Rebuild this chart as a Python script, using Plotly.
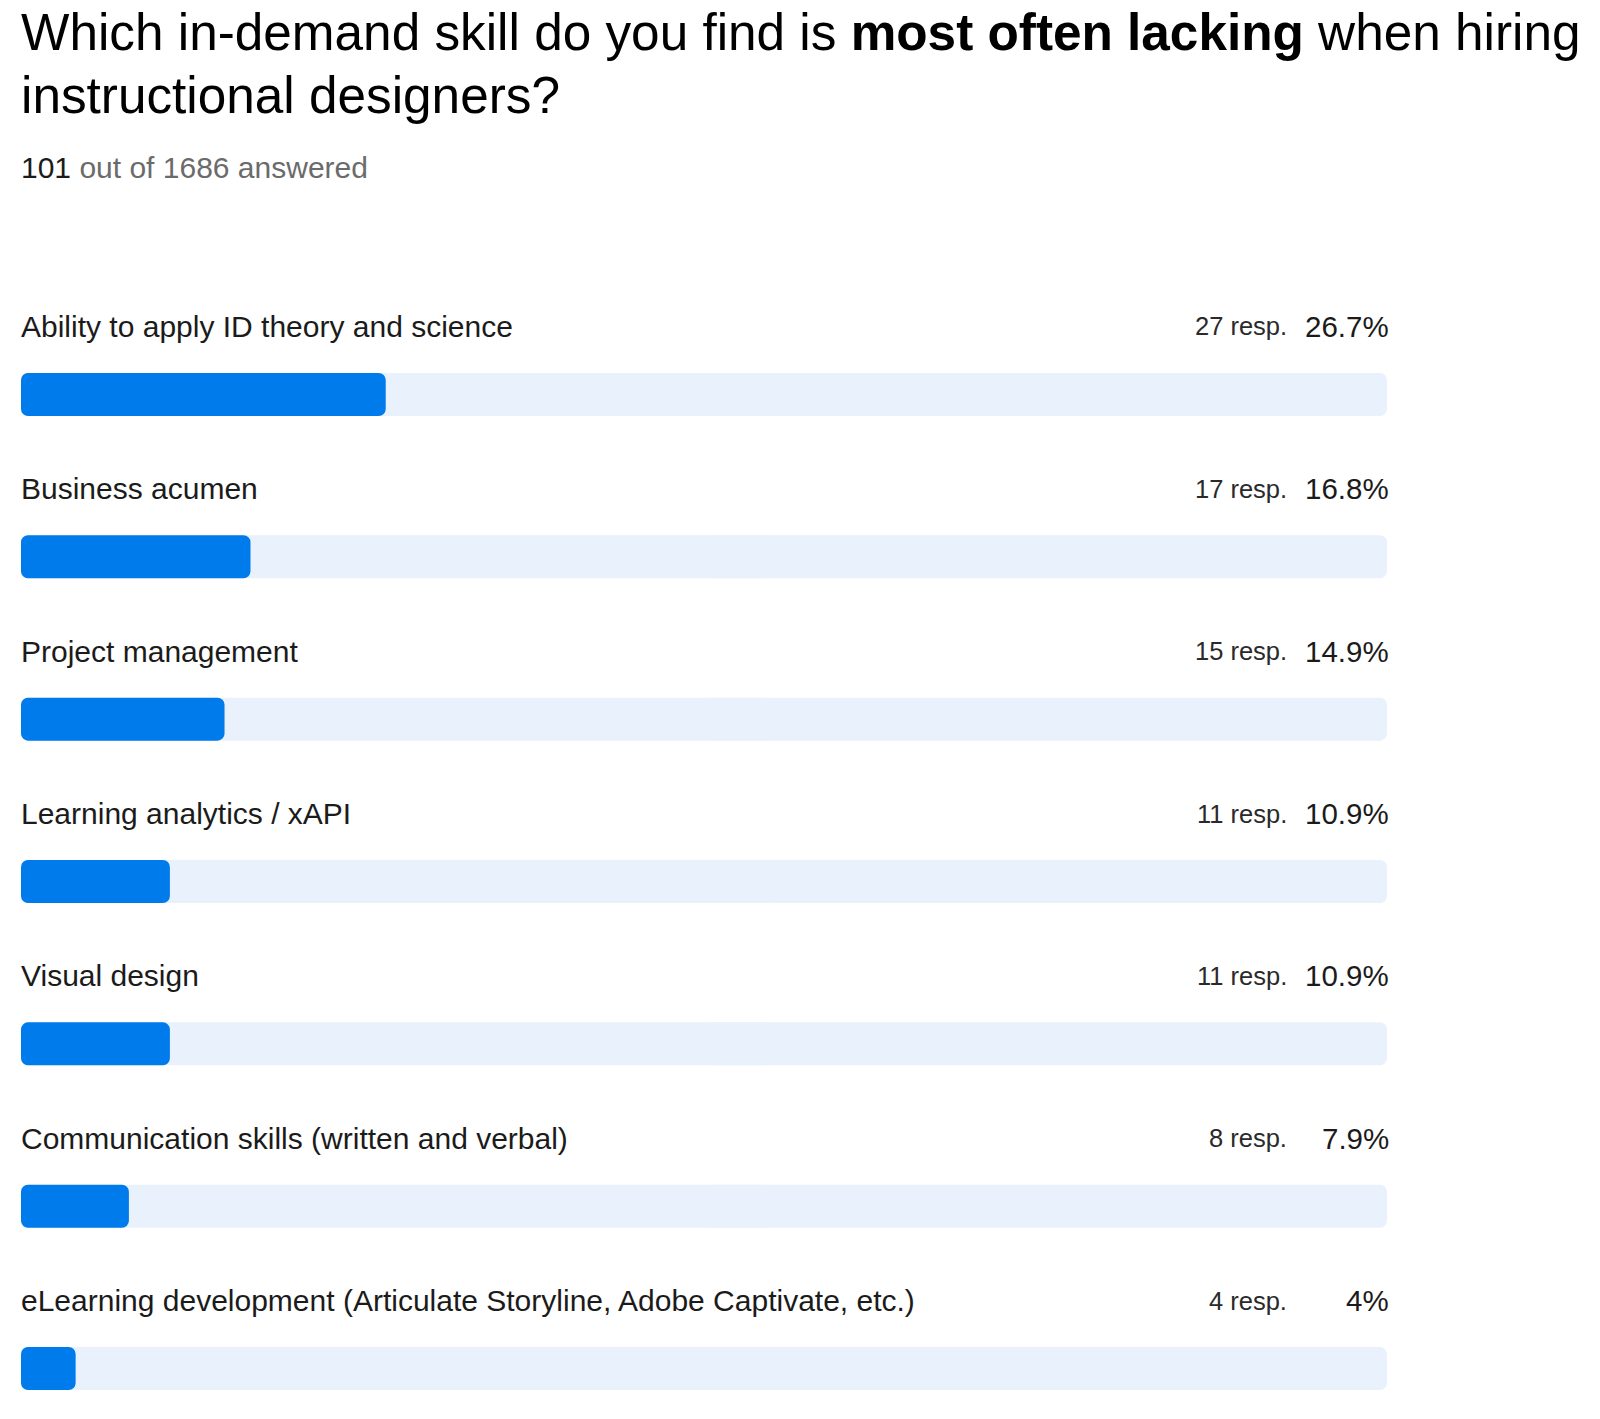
import plotly.graph_objects as go

# survey data
skills = [
    "Ability to apply ID theory and science",
    "Business acumen",
    "Project management",
    "Learning analytics / xAPI",
    "Visual design",
    "Communication skills (written and verbal)",
    "eLearning development (Articulate Storyline, Adobe Captivate, etc.)",
]
responses = [27, 17, 15, 11, 11, 8, 4]
percents = [26.7, 16.8, 14.9, 10.9, 10.9, 7.9, 4.0]
pct_labels = ["26.7%", "16.8%", "14.9%", "10.9%", "10.9%", "7.9%", "4%"]
answered = 101
total = 1686

# the page has an 8px body margin, so the figure is a bit smaller than the window
W, H = 1592, 1411
TOP = 192
BLUE = "#007bec"
TRACK = "#e9f1fc"
TEXT = "#1b1b1b"
FONT = "Liberation Sans, Arial, Helvetica, sans-serif"
BAR_W = 0.265
RADIUS = 7

rows = list(range(len(skills)))
full = [100] * len(skills)

fig = go.Figure()

# track, right half on the normal axis (rounded at the right end)
fig.add_trace(go.Bar(y=rows, x=[f - 50 for f in full], base=[50] * len(rows), orientation="h",
                     marker=dict(color=TRACK, line=dict(width=0), cornerradius=RADIUS),
                     width=BAR_W, hoverinfo="skip", showlegend=False))
# track, left half on a reversed copy of the axis (rounded at the left end)
fig.add_trace(go.Bar(y=rows, x=[f - 45 for f in full], base=[45] * len(rows), orientation="h",
                     xaxis="x2",
                     marker=dict(color=TRACK, line=dict(width=0), cornerradius=RADIUS),
                     width=BAR_W, hoverinfo="skip", showlegend=False))
# filled part on the reversed axis: runs from 100-p to 100, i.e. 0..p on screen
fig.add_trace(go.Bar(y=rows, x=percents, base=[100 - p for p in percents], orientation="h",
                     xaxis="x2",
                     marker=dict(color=BLUE, line=dict(width=0), cornerradius=RADIUS),
                     width=BAR_W, hovertext=skills, hoverinfo="text", showlegend=False))

annotations = []
for i, (s, r, pl) in enumerate(zip(skills, responses, pct_labels)):
    annotations.append(dict(x=0, y=i, xref="x", yref="y", text=s, showarrow=False,
                            xanchor="left", yanchor="middle", yshift=68, xshift=-2,
                            font=dict(size=30, color=TEXT, family=FONT)))
    annotations.append(dict(x=100, y=i, xref="x", yref="y", text=f"{r} resp.", showarrow=False,
                            xanchor="right", yanchor="middle", yshift=68, xshift=-98,
                            font=dict(size=25.5, color="#2a2a2a", family=FONT)))
    annotations.append(dict(x=100, y=i, xref="x", yref="y", text=pl, showarrow=False,
                            xanchor="right", yanchor="middle", yshift=68, xshift=4,
                            font=dict(size=29.5, color=TEXT, family=FONT)))

plot_h = H - TOP


def paper_y(px):
    return (H - px) / plot_h


annotations.append(dict(x=0, y=paper_y(24), xref="paper", yref="paper", xshift=-2,
                        text="Which in-demand skill do you find is <b>most often lacking</b> when hiring",
                        showarrow=False, xanchor="left", yanchor="middle",
                        font=dict(size=51.3, color="#000000", family=FONT)))
annotations.append(dict(x=0, y=paper_y(88), xref="paper", yref="paper", xshift=-2,
                        text="instructional designers?",
                        showarrow=False, xanchor="left", yanchor="middle",
                        font=dict(size=51.3, color="#000000", family=FONT)))
annotations.append(dict(x=0, y=paper_y(160), xref="paper", yref="paper", xshift=-2,
                        text=f"{answered} <span style='color:#6b6b6b'>out of {total} answered</span>",
                        showarrow=False, xanchor="left", yanchor="middle",
                        font=dict(size=30, color=TEXT, family=FONT)))

fig.update_layout(
    width=W, height=H,
    margin=dict(l=13, r=213, t=TOP, b=0),
    barmode="overlay",
    plot_bgcolor="white", paper_bgcolor="white",
    xaxis=dict(range=[0, 100], visible=False, fixedrange=True),
    xaxis2=dict(range=[100, 0], visible=False, fixedrange=True, overlaying="x"),
    yaxis=dict(range=[6.311, -1.198], visible=False, fixedrange=True),
    annotations=annotations,
    font=dict(family=FONT),
)

fig.write_html("out.html")
